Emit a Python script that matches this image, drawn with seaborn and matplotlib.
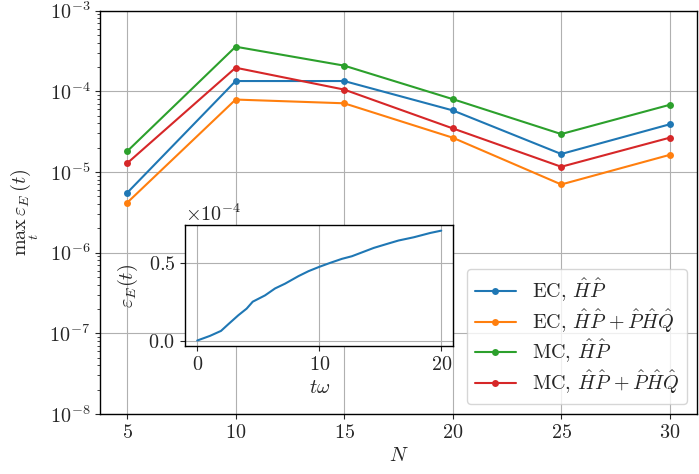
import numpy as np
import pandas as pd
import matplotlib
matplotlib.use("Agg")
import matplotlib.pyplot as plt
import seaborn as sns
from matplotlib.ticker import ScalarFormatter

### DATA
N = [5, 10, 15, 20, 25, 30]
ec_hp = [5.5e-6, 1.34e-4, 1.34e-4, 5.8e-5, 1.67e-5, 3.9e-5]
ec_hp_phq = [4.15e-6, 7.9e-5, 7.1e-5, 2.66e-5, 7.0e-6, 1.63e-5]
mc_hp = [1.8e-5, 3.57e-4, 2.08e-4, 8.0e-5, 2.95e-5, 6.8e-5]
mc_hp_phq = [1.28e-5, 1.96e-4, 1.05e-4, 3.47e-5, 1.16e-5, 2.66e-5]

labels = [r"EC, $\hat{H}\hat{P}$",
          r"EC, $\hat{H}\hat{P}\,+\hat{P}\hat{H}\hat{Q}$",
          r"MC, $\hat{H}\hat{P}$",
          r"MC, $\hat{H}\hat{P}\,+\hat{P}\hat{H}\hat{Q}$"]

# inset: error vs time
t_omega = [0, 1.04, 1.95, 2.55, 3.37, 4.05, 4.55, 5.56, 6.38, 7.2, 8.3, 9.12,
           10.0, 10.9, 11.86, 12.68, 14.47, 15.56, 16.5, 17.75, 19.1, 20.0]
eps_t = [0, 0.030, 0.0625, 0.106, 0.164, 0.207, 0.252, 0.293, 0.338, 0.369,
         0.418, 0.45, 0.478, 0.504, 0.530, 0.547, 0.601, 0.627, 0.649, 0.670,
         0.698, 0.713]
eps_t = [v * 1e-4 for v in eps_t]

df = pd.DataFrame({
    "N": N * 4,
    "err": ec_hp + ec_hp_phq + mc_hp + mc_hp_phq,
    "method": [l for l in labels for _ in N],
})
df_in = pd.DataFrame({"t": t_omega, "eps": eps_t})

### STYLE
FS = 14.5
sns.set_style("ticks")
plt.rcParams["font.family"] = ["serif"]
plt.rcParams["font.serif"] = ["cmr10", "DejaVu Serif"]
plt.rcParams["mathtext.fontset"] = "cm"
plt.rcParams["axes.formatter.use_mathtext"] = True
plt.rcParams["font.size"] = FS
plt.rcParams["axes.edgecolor"] = "black"
plt.rcParams["axes.linewidth"] = 1.0

### MAIN PLOT
fig = plt.figure(figsize=(6.99, 4.74), dpi=100)
ax = fig.add_axes([0.143, 0.1266, 0.854, 0.851])
pal = sns.color_palette("tab10", 4)
sns.lineplot(data=df, x="N", y="err", hue="method", palette=pal,
             marker="o", markersize=5, markeredgewidth=0, linewidth=1.5,
             ax=ax)
ax.set_yscale("log")
ax.set_ylim(1e-8, 1e-3)
ax.set_xlabel(r"$N$", fontsize=FS)
ax.set_ylabel(r"$\max_t\,\varepsilon_E(t)$", fontsize=FS, labelpad=6)
ax.grid(True, color="#b0b0b0", linewidth=0.8)
ax.tick_params(labelsize=FS)
ax.legend(loc="lower right", fontsize=FS, title=None, framealpha=0.8,
          labelspacing=0.15)

### INSET
axin = fig.add_axes([0.2647, 0.270, 0.384, 0.255])
sns.lineplot(data=df_in, x="t", y="eps", ax=axin, color=pal[0], linewidth=1.5)
axin.set_xticks([0, 10, 20])
axin.set_xlabel(r"$t\omega$", fontsize=FS)
axin.set_ylabel(r"$\varepsilon_E(t)$", fontsize=FS, labelpad=6)
fmt = ScalarFormatter(useMathText=True, useOffset=False)
fmt.set_powerlimits((-4, -4))
axin.yaxis.set_major_formatter(fmt)
axin.set_yticks([0, 0.5e-4])
axin.grid(True, color="#b0b0b0", linewidth=0.8)
axin.tick_params(labelsize=FS)
axin.yaxis.get_offset_text().set_fontsize(FS)
axin.set_facecolor("white")

plt.savefig("out.png", dpi=100)
